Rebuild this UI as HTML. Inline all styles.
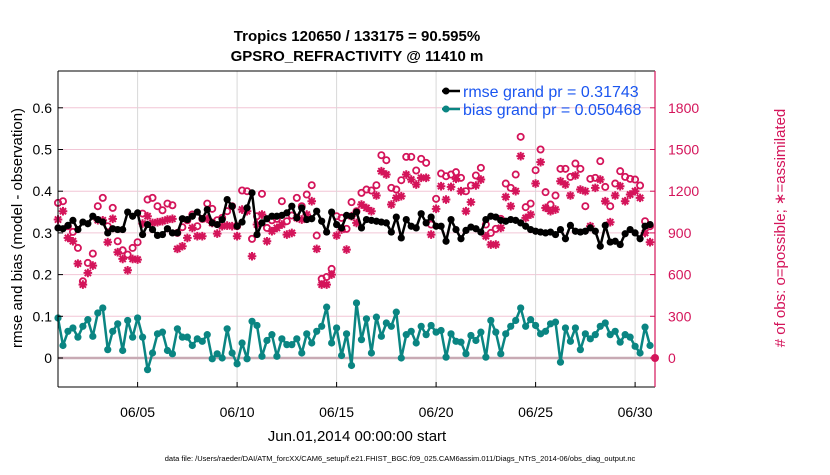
<!DOCTYPE html>
<html><head><meta charset="utf-8"><style>
body{margin:0;background:#fff;}
svg{font-family:"Liberation Sans",sans-serif;}
</style></head><body>
<svg id="chart" width="830" height="470">
<text x="357" y="41" text-anchor="middle" font-size="15" font-weight="bold">Tropics 120650 / 133175 = 90.595%</text>
<text x="357" y="61" text-anchor="middle" font-size="15" font-weight="bold">GPSRO_REFRACTIVITY @ 11410 m</text>
<g id="grid"></g>
<g id="series"></g>
<g id="axes"></g>
<text transform="translate(22,228) rotate(-90)" text-anchor="middle" font-size="15">rmse and bias (model - observation)</text>
<text transform="translate(785,228) rotate(-90)" text-anchor="middle" font-size="15" fill="#d4145a"># of obs: o=possible; ∗=assimilated</text>
<text x="357" y="441" text-anchor="middle" font-size="15">Jun.01,2014 00:00:00 start</text>
<text x="400" y="461" text-anchor="middle" font-size="7.5">data file: /Users/raeder/DAI/ATM_forcXX/CAM6_setup/f.e21.FHIST_BGC.f09_025.CAM6assim.011/Diags_NTrS_2014-06/obs_diag_output.nc</text>
<g>
<line x1="442" y1="91" x2="460" y2="91" stroke="#000" stroke-width="2.5"/>
<circle cx="446" cy="91" r="3.5" fill="#000"/>
<text x="463" y="97" font-size="16" fill="#1a55f0">rmse grand pr = 0.31743</text>
<line x1="442" y1="109" x2="460" y2="109" stroke="#0a8582" stroke-width="2.5"/>
<circle cx="446" cy="109" r="3.5" fill="#0a8582"/>
<text x="463" y="115" font-size="16" fill="#1a55f0">bias grand pr = 0.050468</text>
</g>
</svg>
<script>
const rmse=[0.312,0.310,0.318,0.330,0.308,0.326,0.322,0.340,0.332,0.326,0.300,0.310,0.308,0.308,0.350,0.340,0.348,0.296,0.320,0.308,0.294,0.296,0.310,0.300,0.300,0.334,0.332,0.340,0.350,0.334,0.356,0.324,0.320,0.332,0.380,0.364,0.316,0.326,0.360,
0.396,0.296,0.324,0.334,0.34,0.34,0.342,0.348,0.364,0.336,0.36,0.332,0.334,0.352,0.328,0.302,0.35,0.32,0.312,0.342,0.34,0.35,0.312,0.332,0.33,0.328,0.326,0.324,0.302,0.338,0.288,0.332,0.316,0.312,0.346,0.324,0.338,0.316,
0.316,0.28,0.332,0.308,0.286,0.306,0.314,0.31,0.302,0.332,0.34,0.338,0.330,0.328,0.332,0.330,0.324,0.316,0.308,0.304,0.302,0.30,0.302,0.296,0.308,0.286,0.318,0.304,0.302,0.304,0.312,0.304,0.268,0.318,0.278,0.28,0.272,0.298,0.308,0.300,0.286,0.316,0.32];
const bias=[0.096,0.03,0.064,0.072,0.05,0.076,0.092,0.052,0.108,0.12,0.02,0.064,0.082,0.018,0.09,0.05,0.096,0.05,-0.028,0.012,0.058,0.062,0.018,0.01,0.07,0.05,0.05,0.03,0.046,0.04,0.056,-0.002,0.01,0,0.07,0.012,-0.014,0.036,-0.002,
0.088,0.078,0.004,0.042,0.056,0.004,0.046,0.032,0.032,0.046,0.012,0.058,0.036,0.064,0.076,0.122,0.036,0.072,0.006,0.058,-0.018,0.132,0.044,0.094,0.012,0.098,0.052,0.084,0.076,0.11,0,0.056,0.064,0.036,0.076,0.056,0.078,0.062,
0.066,0.002,0.058,0.04,0.038,0.01,0.054,0.042,0.062,0.002,0.090,0.062,0.01,0.058,0.076,0.090,0.12,0.076,0.092,0.078,0.058,0.064,0.082,0.086,-0.01,0.072,0.04,0.072,0.02,0.058,0.046,0.056,0.076,0.084,0.056,0.064,0.038,0.056,0.05,0.028,0.012,0.074,0.03];
const nPossible=[1116,1128,948,907,792,552,684,751,1092,1152,948,1080,840,775,744,792,833,1039,1140,1152,1092,1063,1111,1099,900,941,991,1032,948,1001,1111,1073,991,1008,1056,1092,948,1205,1200,
857,1020,1181,936,991,1001,1128,984,1025,1152,1092,1176,1243,881,569,583,641,1020,1008,929,1121,1056,1188,1212,1205,1243,1459,1423,1224,1212,1279,1447,1447,1349,1433,1404,960,1145,
1327,1308,1320,1337,1296,1200,1241,1313,1368,960,900,929,1001,1255,1224,1320,1591,1085,1111,1351,1500,1193,1104,1169,1361,1361,1303,1399,1361,1092,1289,1296,1416,1231,1092,1255,1344,1303,1289,1284,1241,984,948];
const nAssim=[996,1056,864,840,679,528,612,665,991,991,833,1001,761,713,631,713,708,967,1020,972,977,984,996,1001,785,804,864,936,876,876,1001,972,895,948,953,948,876,1068,1056,
732,960,1032,840,912,936,960,888,900,1008,996,1032,1128,785,528,528,600,881,924,780,1020,972,1104,1080,1056,1169,1344,1320,1104,1152,1164,1320,1284,1248,1296,1296,888,1073,
1236,1140,1231,1289,1200,1056,1121,1241,1284,876,816,816,936,1159,1092,1200,1452,1008,1032,1255,1409,1080,1056,1068,1272,1248,1169,1313,1212,1200,948,1224,1284,1128,977,1169,1236,1128,1176,1200,1152,900,833];
const xTickDays=[4,9,14,19,24,29];
const xTickLabels=["06/05","06/10","06/15","06/20","06/25","06/30"];
const yTicks=[0,0.1,0.2,0.3,0.4,0.5,0.6];
const yTickLabels=["0","0.1","0.2","0.3","0.4","0.5","0.6"];
const y2Ticks=[0,300,600,900,1200,1500,1800];
const stepDays=0.25;

const NS="http://www.w3.org/2000/svg";
const L=58,R=655,T=71,B=387,Y0=358,PX=417;
const xs=t=>L+t*(R-L)/30;
const yl=v=>Y0-v*PX;
const yr=n=>Y0-n/300*0.1*PX;
const RED="#d4145a",TEAL="#0a8582";
function mk(tag,attrs,parent){const e=document.createElementNS(NS,tag);for(const k in attrs)e.setAttribute(k,attrs[k]);parent.appendChild(e);return e;}
const grid=document.getElementById('grid'),ser=document.getElementById('series'),ax=document.getElementById('axes');
yTicks.forEach((v,i)=>{if(v===0)return;const g=mk('line',{x1:L,x2:R,y1:yl(v),y2:yl(v),stroke:"#f2c6d6","stroke-width":1},grid);

});
xTickDays.forEach(d=>{const g=mk('line',{x1:xs(d),x2:xs(d),y1:T,y2:B,stroke:"#d8d8d8","stroke-width":1},grid);

});
const z=mk('line',{x1:L,x2:R,y1:Y0,y2:Y0,stroke:"#c8aab4","stroke-width":2.5},grid);


const gp=mk('g',{},ser);
nPossible.forEach((n,i)=>{const c=mk('circle',{cx:xs(i*stepDays),cy:yr(n),r:3.1,fill:"none",stroke:RED,"stroke-width":1.8},gp);

});
const ga=mk('g',{},ser);
nAssim.forEach((n,i)=>{const cx=xs(i*stepDays),cy=yr(n),s=4.3,d=3.1;
const p=mk('path',{d:`M${cx-s},${cy}H${cx+s}M${cx},${cy-s}V${cy+s}M${cx-d},${cy-d}L${cx+d},${cy+d}M${cx-d},${cy+d}L${cx+d},${cy-d}`,stroke:RED,"stroke-width":2},ga);

});
function line(arr,col,name){const g=mk('g',{},ser);
const pts=arr.map((v,i)=>xs(i*stepDays).toFixed(1)+","+yl(v).toFixed(1)).join(" ");
mk('polyline',{points:pts,fill:"none",stroke:col,"stroke-width":2.5,"stroke-linejoin":"round"},g);
arr.forEach((v,i)=>{const c=mk('circle',{cx:xs(i*stepDays),cy:yl(v),r:3.6,fill:col},g);

});}
line(rmse,"#000","rmse-series");
line(bias,TEAL,"bias-series");
const rd=mk('circle',{cx:R,cy:Y0,r:4,fill:RED},ser);


mk('line',{x1:L,x2:R,y1:T,y2:T,stroke:"#000","stroke-width":1},ax);
mk('line',{x1:L,x2:R,y1:B,y2:B,stroke:"#000","stroke-width":1},ax);
mk('line',{x1:L,x2:L,y1:T,y2:B,stroke:"#000","stroke-width":1},ax);
mk('line',{x1:R,x2:R,y1:T,y2:B,stroke:RED,"stroke-width":1.2},ax);
yTicks.forEach((v,i)=>{mk('line',{x1:L,x2:L+5,y1:yl(v),y2:yl(v),stroke:"#000"},ax);
const t=mk('text',{x:L-6,y:yl(v)+5,"text-anchor":"end","font-size":14},ax);t.textContent=yTickLabels[i];

});
y2Ticks.forEach(n=>{mk('line',{x1:R-5,x2:R,y1:yr(n),y2:yr(n),stroke:RED},ax);
const t=mk('text',{x:R+13,y:yr(n)+5,"font-size":14,fill:RED},ax);t.textContent=String(n);

});
xTickDays.forEach((d,i)=>{const x=xs(d);
mk('line',{x1:x,x2:x,y1:B,y2:B-5,stroke:"#000"},ax);
const t=mk('text',{x:x,y:417,"text-anchor":"middle","font-size":14},ax);t.textContent=xTickLabels[i];

});
</script>
</body></html>
